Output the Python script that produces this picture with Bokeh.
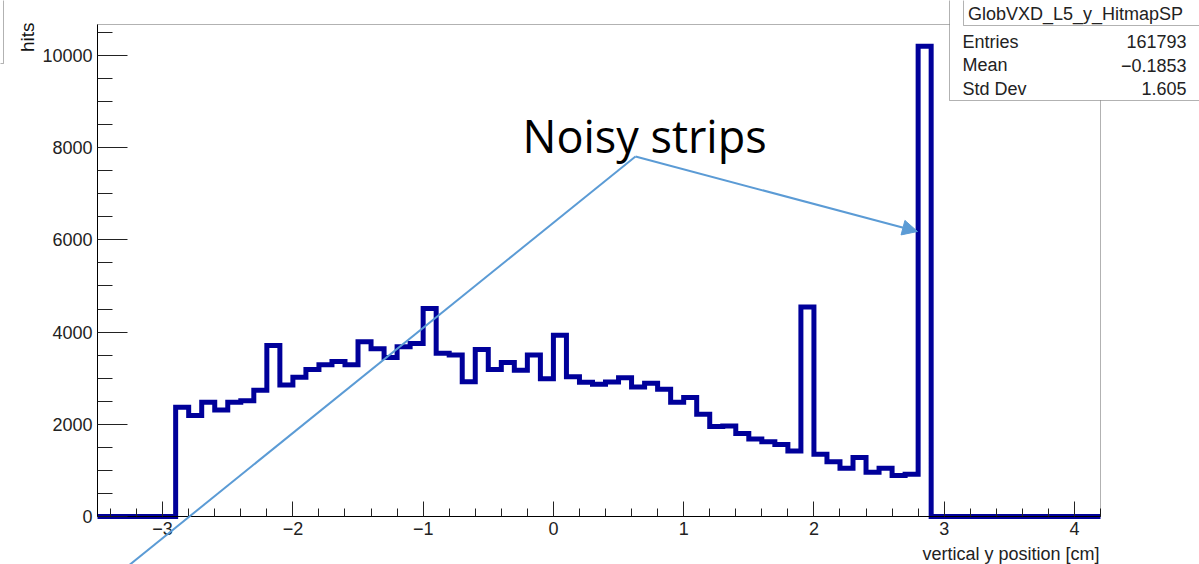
import numpy as np
from bokeh.plotting import figure
from bokeh.models import (Range1d, SingleIntervalTicker, Label, Arrow,
                          NormalHead, BoxAnnotation)
from bokeh.embed import file_html
from bokeh.resources import INLINE

# ---------------- data ----------------
bin_width = 0.1
first_edge = -2.9
counts = [2370, 2190, 2480, 2310, 2480, 2510, 2740, 3710, 2850, 3020,
          3190, 3290, 3360, 3290, 3790, 3640, 3450, 3680, 3750, 4510,
          3540, 3500, 2920, 3620, 3190, 3340, 3170, 3500, 2990, 3930,
          3030, 2910, 2870, 2915, 3010, 2810, 2890, 2760, 2480, 2580,
          2220, 1950, 1965, 1800, 1680, 1620, 1560, 1420, 4545, 1350,
          1190, 1045, 1280, 960, 1045, 890, 915, 10200]
x_min, x_max = -3.5, 4.2
y_min, y_max = 0, 10670
x_ticks = [-3, -2, -1, 0, 1, 2, 3, 4]
x_tick_labels = ["\u22123", "\u22122", "\u22121", "0", "1", "2", "3", "4"]
hist_title = "GlobVXD_L5_y_HitmapSP"
stat_names = ["Entries", "Mean", "Std Dev"]
stat_values = ["161793", "\u22120.1853", "1.605"]
annotation_text = "Noisy strips"
x_title = "vertical y position [cm]"
y_title = "hits"

# ---------------- layout ----------------
W, H = 1199, 564
FL, FR, FT, FB = 97, 1100, 24, 516   # histogram frame edges in pixels


def px_x(px):
    return x_min + (px - FL) * (x_max - x_min) / (FR - FL)


def px_y(py):
    return y_min + (FB - py) * (y_max - y_min) / (FB - FT)


p = figure(width=W, height=H, output_backend="svg", toolbar_location=None,
           x_range=Range1d(px_x(0), px_x(W)), y_range=Range1d(px_y(H), px_y(0)),
           min_border=0, min_border_left=0, min_border_right=0,
           min_border_top=0, min_border_bottom=0)
p.grid.visible = False
p.background_fill_color = "white"
p.border_fill_color = "white"
p.outline_line_color = None

font = "Liberation Sans"
for ax in (p.xaxis[0], p.yaxis[0]):
    ax.axis_line_color = "black"
    ax.major_tick_line_color = "#222222"
    ax.minor_tick_line_color = "#222222"
    ax.major_tick_out = 0
    ax.minor_tick_out = 0
    ax.major_label_text_font = font
    ax.major_label_text_font_size = "18px"
    ax.major_label_text_color = "#222222"

p.xaxis.fixed_location = y_min
p.xaxis.bounds = (x_min, x_max)
p.xaxis.ticker = SingleIntervalTicker(interval=1, num_minor_ticks=5)
p.xaxis.major_tick_in = 15
p.xaxis.minor_tick_in = 8
p.xaxis.major_label_standoff = 5
p.xaxis.major_label_overrides = {t: l for t, l in zip(x_ticks, x_tick_labels)}

p.yaxis.fixed_location = x_min
p.yaxis.bounds = (y_min, y_max)
p.yaxis.ticker = SingleIntervalTicker(interval=2000, num_minor_ticks=4)
p.yaxis.major_tick_in = 30
p.yaxis.minor_tick_in = 15
p.yaxis.major_label_standoff = 5

# histogram outline
edges = first_edge + bin_width * np.arange(len(counts) + 1)
xs = [x_min] + list(edges) + [x_max]
ys = [0] + list(counts) + [0, 0]
p.step(xs, ys, mode="after", line_color="#00009a", line_width=5,
       line_join="miter")

# frame box
p.add_layout(BoxAnnotation(left=x_min, right=x_max, bottom=y_min, top=y_max,
                           fill_alpha=0, line_color="black", line_width=1))

# axis titles
p.add_layout(Label(x=px_x(1099), y=px_y(553), text=x_title,
                   text_align="right", text_baseline="alphabetic",
                   text_font=font, text_font_size="18px",
                   text_color="#222222"))
p.add_layout(Label(x=px_x(26.5), y=px_y(22), text=y_title, angle=np.pi / 2,
                   text_align="right", text_baseline="middle",
                   text_font=font, text_font_size="19px",
                   text_color="#111111"))

# stats box
p.add_layout(BoxAnnotation(left=px_x(949), right=px_x(1215),
                           top=px_y(-10), bottom=px_y(100),
                           fill_color="white", fill_alpha=1,
                           line_color="black", line_width=1))
p.add_layout(BoxAnnotation(left=px_x(963), right=px_x(1215),
                           top=px_y(-10), bottom=px_y(25),
                           fill_alpha=0, line_color="black", line_width=1))
p.add_layout(Label(x=px_x(1075), y=px_y(13), text=hist_title,
                   text_align="center", text_baseline="middle",
                   text_font=font, text_font_size="18px",
                   text_color="#222222"))
for i, (n, v) in enumerate(zip(stat_names, stat_values)):
    yy = px_y(41 + 23.5 * i)
    p.add_layout(Label(x=px_x(962), y=yy, text=n, text_align="left",
                       text_baseline="middle", text_font=font,
                       text_font_size="18px", text_color="#222222"))
    p.add_layout(Label(x=px_x(1186), y=yy, text=v, text_align="right",
                       text_baseline="middle", text_font=font,
                       text_font_size="18px", text_color="#222222"))

# top-left partial frame
p.add_layout(BoxAnnotation(left=px_x(-40), right=px_x(3),
                           top=px_y(-40), bottom=px_y(63),
                           fill_alpha=0, line_color="black", line_width=1))

# annotation arrow and text
blue = "#5b9bd5"
p.add_layout(Arrow(end=None, x_start=px_x(127), y_start=px_y(566),
                   x_end=px_x(635), y_end=px_y(156),
                   line_color=blue, line_width=2))
p.add_layout(Arrow(end=NormalHead(size=15, fill_color=blue, line_color=blue),
                   x_start=px_x(635), y_start=px_y(156),
                   x_end=px_x(917), y_end=px_y(231),
                   line_color=blue, line_width=2))
p.add_layout(Label(x=px_x(522), y=px_y(135), text=annotation_text,
                   text_align="left", text_baseline="alphabetic",
                   text_font="Open Sans", text_font_size="45px",
                   text_color="black"))

open("out.html", "w").write(file_html(p, INLINE))
